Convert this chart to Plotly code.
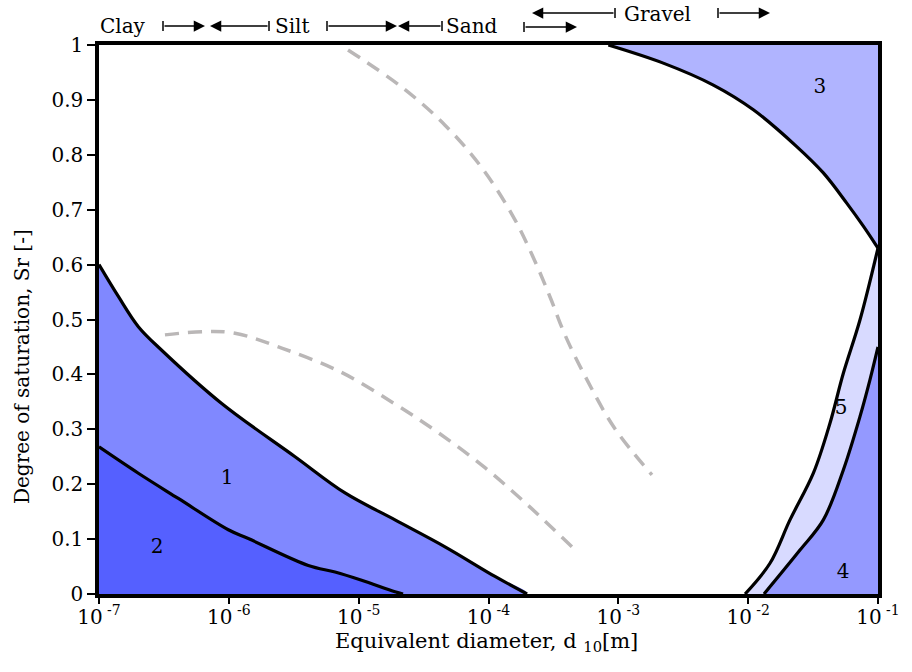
import plotly.graph_objects as go

# ---- data: exponent of equivalent diameter d10 (log10 m) and degree of saturation Sr
# boundary curves of the zones
zone2_logd = [-7.0, -6.697, -6.389, -6.004, -5.850, -5.388, -5.182, -4.977, -4.720, -4.658]
zone2_sr   = [0.268, 0.220, 0.174, 0.117, 0.101, 0.052, 0.040, 0.025, 0.004, 0.0]

zone1_logd = [-7.0, -6.851, -6.697, -6.517, -6.055, -5.490, -5.105, -4.720, -4.335, -3.950, -3.703]
zone1_sr   = [0.600, 0.542, 0.487, 0.444, 0.347, 0.250, 0.184, 0.135, 0.086, 0.032, 0.0]

zone3_logd = [-3.077, -2.654, -2.268, -1.960, -1.626, -1.421, -1.241, -1.113, -1.0]
zone3_sr   = [1.0, 0.967, 0.927, 0.882, 0.815, 0.767, 0.712, 0.670, 0.630]

zone5_logd = [-2.024, -1.832, -1.678, -1.498, -1.370, -1.267, -1.139, -1.0]
zone5_sr   = [0.0, 0.056, 0.135, 0.220, 0.311, 0.402, 0.499, 0.630]

zone4_logd = [-1.878, -1.601, -1.421, -1.267, -1.139, -1.062, -1.0]
zone4_sr   = [0.0, 0.080, 0.135, 0.226, 0.323, 0.390, 0.450]

dashA_logd = [-6.492, -6.184, -5.952, -5.593, -5.144, -4.733, -4.387, -4.027, -3.693, -3.349]
dashA_sr   = [0.472, 0.478, 0.475, 0.448, 0.405, 0.348, 0.294, 0.230, 0.161, 0.084]

dashB_logd = [-5.082, -4.666, -4.335, -4.050, -3.811, -3.657, -3.526, -3.411, -3.241, -3.026, -2.741]
dashB_sr   = [0.991, 0.923, 0.854, 0.776, 0.688, 0.614, 0.541, 0.472, 0.390, 0.301, 0.217]

zone_labels = ["1", "2", "3", "4", "5"]
label_logd  = [-6.014, -6.553, -1.447, -1.269, -1.285]
label_sr    = [0.209, 0.084, 0.922, 0.038, 0.337]

x_tick_exp = [-7, -6, -5, -4, -3, -2, -1]
y_ticks = [0, 0.1, 0.2, 0.3, 0.4, 0.5, 0.6, 0.7, 0.8, 0.9, 1]
y_ticktext = ["0", "0.1", "0.2", "0.3", "0.4", "0.5", "0.6", "0.7", "0.8", "0.9", "1"]

FONT = "DejaVu Serif"
W, H = 912, 672
L, R, T, B = 99, 34, 45, 78
PW, PH = W - L - R, H - T - B


def px2x(px):
    return (px - L) / PW


def px2y(py):
    return (T + PH - py) / PH


def d(vals):
    return [10 ** v for v in vals]


fig = go.Figure()

# (curve x, curve y, corner points appended to close polygon, colour)
zones = [
    (zone1_logd, zone1_sr, [(-7.0, 0.0)], "#8088ff"),
    (zone2_logd, zone2_sr, [(-7.0, 0.0)], "#5560ff"),
    (zone3_logd, zone3_sr, [(-1.0, 1.0)], "#b0b4ff"),
    (zone5_logd, zone5_sr, [(-1.0, 0.0)], "#d8daff"),
    (zone4_logd, zone4_sr, [(-1.0, 0.0)], "#9499ff"),
]
for xs, ys, corners, col in zones:
    px = list(xs) + [c[0] for c in corners]
    py = list(ys) + [c[1] for c in corners]
    fig.add_trace(go.Scatter(x=d(px), y=py, mode="lines", fill="toself", fillcolor=col,
                             line=dict(color=col, width=0, shape="spline", smoothing=1.0),
                             hoverinfo="skip", showlegend=False))
for xs, ys, corners, col in zones:
    fig.add_trace(go.Scatter(x=d(xs), y=ys, mode="lines",
                             line=dict(color="black", width=3.2, shape="spline", smoothing=1.0),
                             hoverinfo="skip", showlegend=False))

for xs, ys in [(dashA_logd, dashA_sr), (dashB_logd, dashB_sr)]:
    fig.add_trace(go.Scatter(x=d(xs), y=ys, mode="lines",
                             line=dict(color="#bab7b7", width=3.5, dash="14px,9px",
                                       shape="spline", smoothing=1.0),
                             hoverinfo="skip", showlegend=False))

fig.add_trace(go.Scatter(x=d(label_logd), y=label_sr, mode="text", text=zone_labels,
                         textfont=dict(family=FONT, size=20, color="black"),
                         hoverinfo="skip", showlegend=False))

annotations = []
shapes = []

# soil class labels above the plot
for txt, cx, cy in [("Clay", 123, 26), ("Silt", 292, 26), ("Sand", 472, 26), ("Gravel", 657, 14)]:
    annotations.append(dict(xref="paper", yref="paper", x=px2x(cx), y=px2y(cy), text=txt,
                            showarrow=False, font=dict(family=FONT, size=20, color="black"),
                            xanchor="center", yanchor="middle"))

# arrows: (tail px, head px, y px)
arrows = [(163, 205, 26), (269, 210, 26), (327, 397, 26), (442, 398, 26),
          (524, 577, 27), (615, 532, 13), (718, 770, 13)]
for tail, head, ypx in arrows:
    annotations.append(dict(xref="paper", yref="paper", x=px2x(head), y=px2y(ypx), text="",
                            showarrow=True, ax=tail - head, ay=0, axref="pixel", ayref="pixel",
                            arrowhead=2, arrowsize=1.5, arrowwidth=1.5, arrowcolor="black",
                            standoff=0, startstandoff=0))
    shapes.append(dict(type="line", xref="paper", yref="paper", x0=px2x(tail), x1=px2x(tail),
                       y0=px2y(ypx - 5), y1=px2y(ypx + 5), line=dict(color="black", width=1.5)))

# axis titles
annotations.append(dict(xref="paper", yref="paper", x=px2x(22), y=px2y(367),
                        text="Degree of saturation, Sr [-]", textangle=-90, showarrow=False,
                        font=dict(family=FONT, size=20, color="black"),
                        xanchor="center", yanchor="middle"))
annotations.append(dict(xref="paper", yref="paper", x=px2x(486), y=px2y(642),
                        text="Equivalent diameter, d <sub>10</sub>[m]", showarrow=False,
                        font=dict(family=FONT, size=21, color="black"),
                        xanchor="center", yanchor="middle"))

fig.update_layout(
    width=W, height=H,
    margin=dict(l=L, r=R, t=T, b=B, pad=0),
    plot_bgcolor="white", paper_bgcolor="white",
    font=dict(family=FONT, size=20, color="black"),
    annotations=annotations, shapes=shapes,
    showlegend=False,
)
fig.update_xaxes(type="log", range=[-7, -1], showgrid=False, zeroline=False,
                 showline=True, linecolor="black", linewidth=3.5, mirror=True,
                 ticks="outside", ticklen=6, tickwidth=2, tickcolor="black",
                 tickvals=d(x_tick_exp),
                 ticktext=["10<sup> %d</sup>" % e for e in x_tick_exp],
                 ticklabelstandoff=-4,
                 tickfont=dict(family=FONT, size=20, color="black"))
fig.update_yaxes(range=[0, 1], showgrid=False, zeroline=False,
                 showline=True, linecolor="black", linewidth=3.5, mirror=True,
                 ticks="outside", ticklen=8, tickwidth=2, tickcolor="black",
                 tickvals=y_ticks, ticktext=y_ticktext,
                 tickfont=dict(family=FONT, size=20, color="black"))

fig.write_html("out.html")
